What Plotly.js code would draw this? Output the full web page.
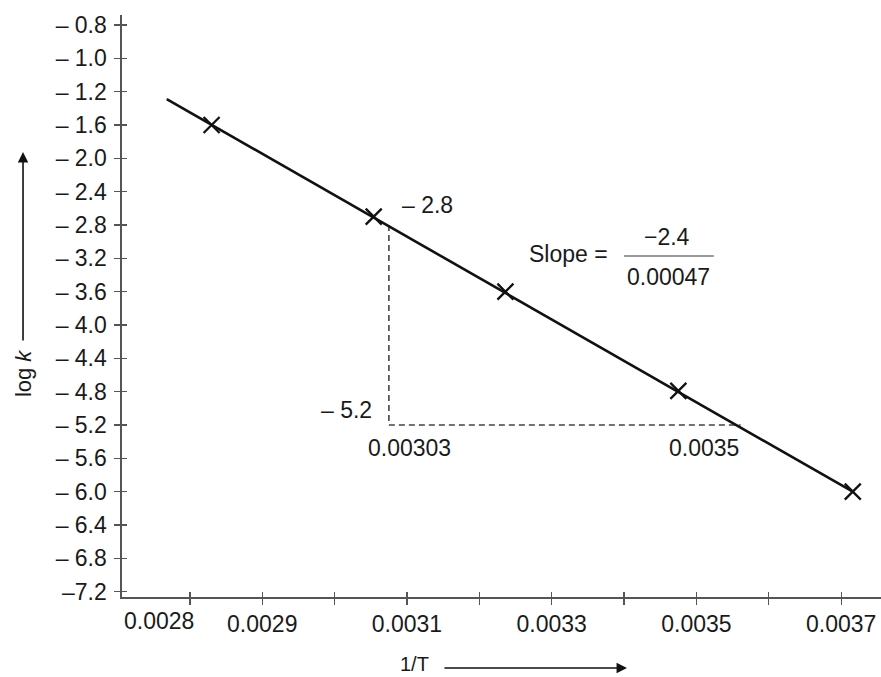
<!DOCTYPE html>
<html>
<head>
<meta charset="utf-8">
<script src="https://cdn.plot.ly/plotly-3.0.1.min.js"></script>
<style>html,body{margin:0;padding:0;background:#fff;}#chart{width:881px;height:677px;}</style>
</head>
<body>
<div id="chart"></div>
<script>
// Measured points (1/T, log k)
const pointX = [0.00283, 0.003054, 0.003236, 0.003475, 0.003716];
const pointY = [-1.6, -2.70, -3.60, -4.79, -6.0];
// Best-fit straight line end points
const lineX = [0.002768, 0.003716];
const lineY = [-1.29, -6.0];
// Dashed construction lines for the slope triangle
const dashX = [0.003075, 0.003075, 0.003561];
const dashY = [-2.8, -5.2, -5.2];
// Axis ticks
const xTickVals = [0.0028, 0.0029, 0.0030, 0.0031, 0.0032, 0.0033, 0.0034, 0.0035, 0.0036, 0.0037];
const xTickText = ['', '0.0029', '', '0.0031', '', '0.0033', '', '0.0035', '', '0.0037'];
const yTickVals = [-0.4, -0.8, -1.2, -1.6, -2.0, -2.4, -2.8, -3.2, -3.6, -4.0, -4.4, -4.8, -5.2, -5.6, -6.0, -6.4, -6.8, -7.2];
const yTickText = ['\u2013 0.8', '\u2013 1.0', '\u2013 1.2', '\u2013 1.6', '\u2013 2.0', '\u2013 2.4', '\u2013 2.8', '\u2013 3.2', '\u2013 3.6', '\u2013 4.0', '\u2013 4.4', '\u2013 4.8', '\u2013 5.2', '\u2013 5.6', '\u2013 6.0', '\u2013 6.4', '\u2013 6.8', '\u20137.2'];
// Text labels
const firstXLabel = {x: 0.002757, text: '0.0028'};
const slopeRise = '\u22122.4';
const slopeRun = '0.00047';

const FONT = 'Liberation Sans, Arial, Helvetica, sans-serif';
const TXT = '#1a1a1a';
const AX = '#555555';
const xRange = [0.0027062, 0.003755];
const yRange = [-7.264, -0.28];

const traces = [
  {x: dashX, y: dashY, mode: 'lines', line: {color: '#444', width: 1.6, dash: '6px,4px'}, hoverinfo: 'skip', showlegend: false},
  {x: lineX, y: lineY, mode: 'lines', xaxis: 'x2', yaxis: 'y2', line: {color: '#111', width: 2.6}, showlegend: false},
  {x: pointX, y: pointY, mode: 'markers', marker: {symbol: 'x-thin', size: 16, line: {color: '#111', width: 2.3}}, showlegend: false}
];

const baseTick = {family: FONT, size: 23, color: TXT};

const layout = {
  width: 881, height: 677,
  margin: {l: 122, r: 0, t: 15, b: 80},
  paper_bgcolor: '#fff', plot_bgcolor: '#fff',
  showlegend: false,
  xaxis: {range: xRange, tickmode: 'array', tickvals: xTickVals, ticktext: xTickText,
    ticks: 'outside', ticklen: 6, tickwidth: 1.3, tickcolor: AX, showline: true, linecolor: AX, linewidth: 1.6,
    showgrid: false, zeroline: false, tickfont: baseTick, ticklabelstandoff: 0},
  yaxis: {range: yRange, tickmode: 'array', tickvals: yTickVals, ticktext: yTickText,
    ticks: 'outside', ticklen: 6, tickwidth: 1.3, tickcolor: AX, showline: true, linecolor: AX, linewidth: 1.6,
    showgrid: false, zeroline: false, tickfont: baseTick, ticklabelstandoff: 3},
  xaxis2: {overlaying: 'x', range: xRange, tickmode: 'array', tickvals: xTickVals, showticklabels: false,
    ticks: 'inside', ticklen: 5, tickwidth: 1.3, tickcolor: AX, showline: false, showgrid: false, zeroline: false},
  yaxis2: {overlaying: 'y', range: yRange, tickmode: 'array', tickvals: yTickVals, showticklabels: false,
    ticks: 'inside', ticklen: 5, tickwidth: 1.3, tickcolor: AX, showline: false, showgrid: false, zeroline: false},
  shapes: [
    {type: 'line', xref: 'x', yref: 'y', x0: 0.0034, x1: 0.003524, y0: -3.172, y1: -3.172, line: {color: '#777', width: 1.5}}
  ],
  annotations: [
    {xref: 'x', yref: 'y', x: firstXLabel.x, y: yRange[0], xanchor: 'center', yanchor: 'top', yshift: -9, text: firstXLabel.text, showarrow: false, font: baseTick},
    {xref: 'x', yref: 'y', x: 0.00309, y: -2.56, xanchor: 'left', yanchor: 'middle', text: '\u2013 2.8', showarrow: false, font: baseTick},
    {xref: 'x', yref: 'y', x: 0.003055, y: -5.02, xanchor: 'right', yanchor: 'middle', text: '\u2013 5.2', showarrow: false, font: baseTick},
    {xref: 'x', yref: 'y', x: 0.003103, y: -5.476, xanchor: 'center', yanchor: 'middle', text: '0.00303', showarrow: false, font: baseTick},
    {xref: 'x', yref: 'y', x: 0.00351, y: -5.476, xanchor: 'center', yanchor: 'middle', text: '0.0035', showarrow: false, font: baseTick},
    {xref: 'x', yref: 'y', x: 0.003359, y: -3.148, xanchor: 'right', yanchor: 'middle', xshift: 16, text: 'Slope =', showarrow: false, font: baseTick},
    {xref: 'x', yref: 'y', x: 0.003459, y: -2.944, xanchor: 'center', yanchor: 'middle', text: slopeRise, showarrow: false, font: baseTick},
    {xref: 'x', yref: 'y', x: 0.003462, y: -3.424, xanchor: 'center', yanchor: 'middle', text: slopeRun, showarrow: false, font: baseTick},
    // axis titles with arrows
    {xref: 'paper', yref: 'paper', x: -0.1304, y: 0.383, xanchor: 'center', yanchor: 'middle', text: 'log <i>k</i>', textangle: -90, showarrow: false, font: {family: FONT, size: 22, color: TXT}},
    {xref: 'paper', yref: 'paper', x: -0.1304, y: 0.7646, text: '', showarrow: true, axref: 'pixel', ayref: 'pixel', ax: 0, ay: 190,
      arrowhead: 2, arrowsize: 1.3, arrowwidth: 1.6, arrowcolor: '#111'},
    {xref: 'paper', yref: 'paper', x: 0.385, y: -0.115, xanchor: 'center', yanchor: 'middle', text: '1/T', showarrow: false, font: {family: FONT, size: 20, color: TXT}},
    {xref: 'paper', yref: 'paper', x: 0.6653, y: -0.122, text: '', showarrow: true, axref: 'pixel', ayref: 'pixel', ax: -184, ay: 0,
      arrowhead: 2, arrowsize: 1.3, arrowwidth: 1.6, arrowcolor: '#111'}
  ]
};

Plotly.newPlot('chart', traces, layout, {staticPlot: true, displayModeBar: false});
</script>
</body>
</html>
